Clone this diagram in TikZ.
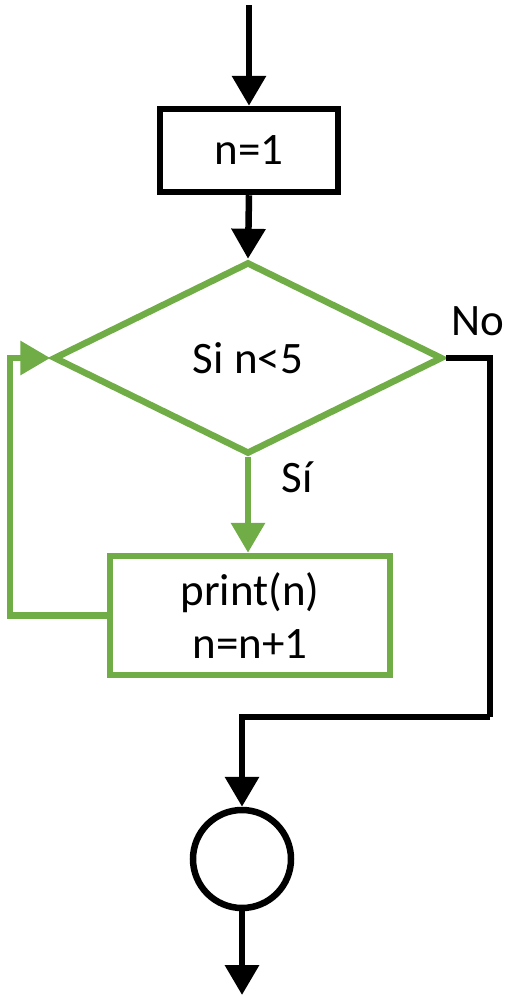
\documentclass[tikz,border=0pt]{standalone}
\usepackage{fontspec}
\setmainfont{Carlito}
\usetikzlibrary{arrows.meta,shapes.geometric}
\definecolor{ogreen}{RGB}{112,173,71}
\tikzset{
  lw/.style={line width=6.5pt},
  tip/.style={-{Triangle[width=33pt,length=30pt]}},
  blackbox/.style={draw=black,lw,rectangle,inner sep=0pt},
  greenbox/.style={draw=ogreen,lw,rectangle,inner sep=0pt,align=center},
  decision/.style={draw=ogreen,lw,diamond,inner sep=0pt},
  termcircle/.style={draw=black,lw,circle,inner sep=0pt,minimum size=98pt},
  lbl/.style={inner sep=0pt},
  txt/.style={font=\fontsize{45}{53}\selectfont}
}
\begin{document}
\begin{tikzpicture}[x=1pt,y=-1pt,txt]
\useasboundingbox (0,0) rectangle (508,996);
\coordinate (start) at (249,5);
\node[blackbox,minimum width=178pt,minimum height=83pt] (n1) at (249,150.5) {n=1};
\node[decision,minimum width=389pt,minimum height=192pt] (dia) at (248,358) {Si n<5};
\node[greenbox,minimum width=280pt,minimum height=119pt] (body) at (250,615.5) {print(n)\\n=n+1};
\node[termcircle] (end) at (242,859) {};
\coordinate (exit) at (242,995);
\coordinate (noc) at (490,717);
\coordinate (loopc) at (10,615.5);
\node[lbl] (nolbl) at (478,321) {No};
\node[lbl] (silbl) at (297,477) {Sí};
\draw[lw,tip] (start) -- (n1.north);
\draw[lw,tip] (n1.south) -- (dia.north);
\draw[lw,tip,ogreen] (dia.south) -- (dia.south |- body.north);
\draw[lw] (dia.east) -| (noc);
\draw[lw,tip] (noc) -| (end.north);
\draw[lw,tip,ogreen] (body.west) -- (loopc) |- (dia.west);
\draw[lw,tip] (end.south) -- (exit);
\end{tikzpicture}
\end{document}
